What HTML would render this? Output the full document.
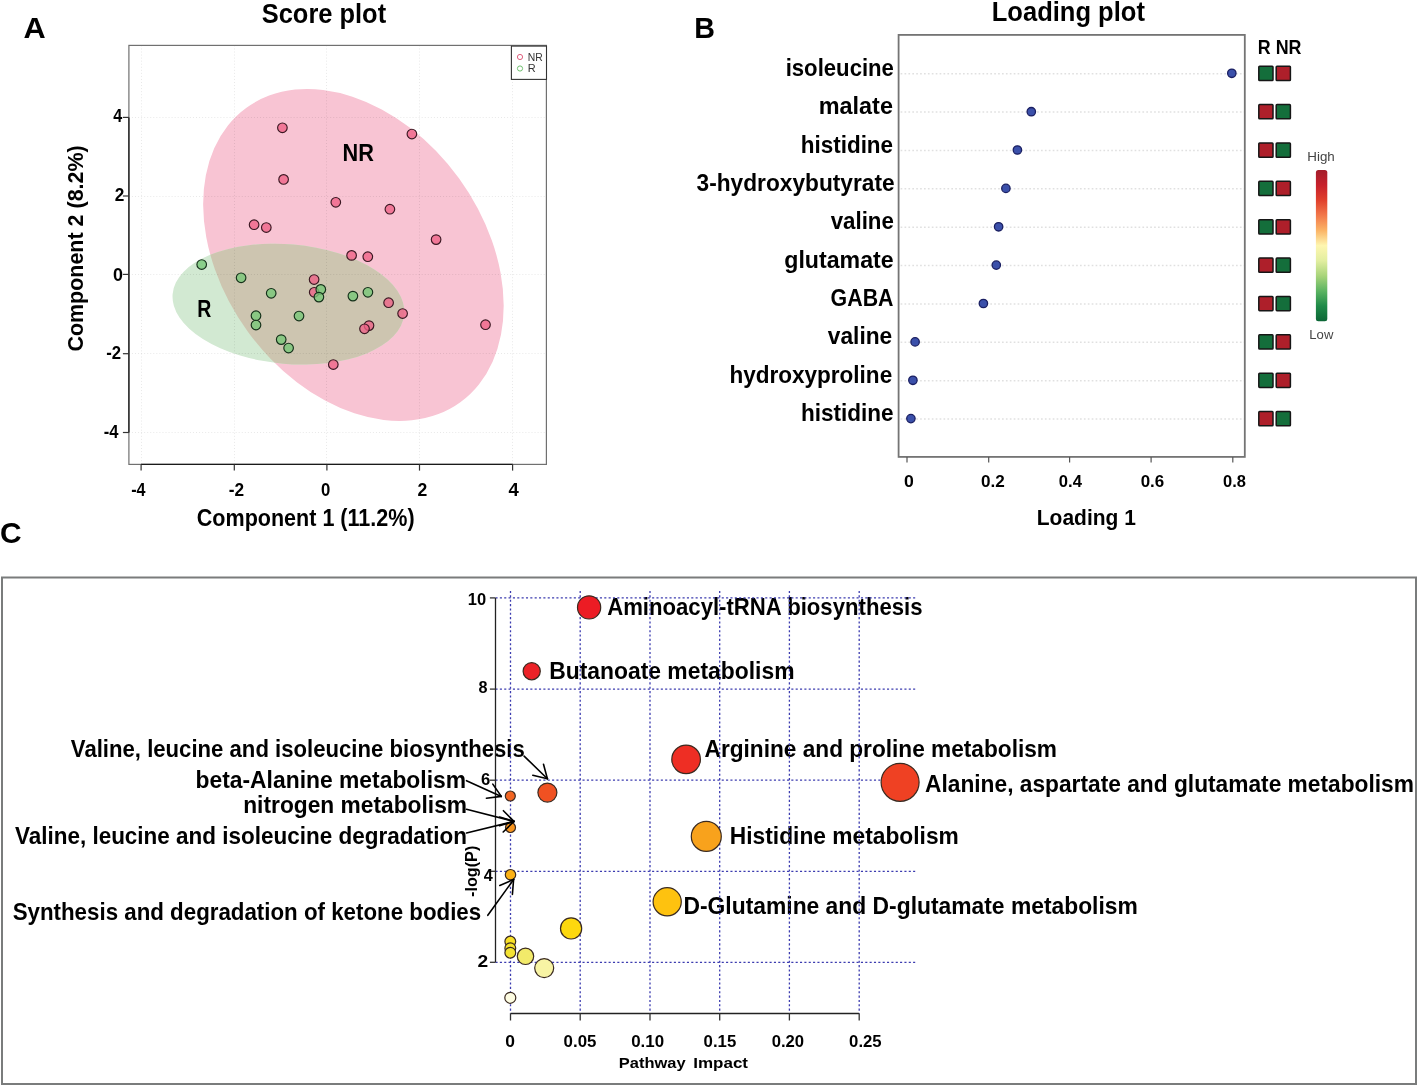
<!DOCTYPE html>
<html><head><meta charset="utf-8"><style>
html,body{margin:0;padding:0;background:#fff;}
svg{display:block;font-family:"Liberation Sans", sans-serif;}
</style></head><body>
<svg style="will-change:transform" width="1417" height="1085" viewBox="0 0 1417 1085">
<rect width="1417" height="1085" fill="#fff"/>
<defs><clipPath id="pinkclip"><ellipse cx="353.41" cy="254.99" rx="181.99" ry="130.46" transform="rotate(54.01 353.41 254.99)" fill="#000" /></clipPath></defs>
<ellipse cx="353.41" cy="254.99" rx="181.99" ry="130.46" transform="rotate(54.01 353.41 254.99)" fill="#f8c4d3" />
<ellipse cx="288.4" cy="304.1" rx="116.2" ry="59.8" transform="rotate(5.0 288.4 304.1)" fill="#d2e9d2" />
<g clip-path="url(#pinkclip)"><ellipse cx="288.4" cy="304.1" rx="116.2" ry="59.8" transform="rotate(5.0 288.4 304.1)" fill="#cdc5b0" /></g>
<line x1="141.5" y1="45.4" x2="141.5" y2="464.4" stroke="rgba(0,0,0,0.09)" stroke-width="1" stroke-dasharray="1 2.05"/>
<line x1="234.5" y1="45.4" x2="234.5" y2="464.4" stroke="rgba(0,0,0,0.09)" stroke-width="1" stroke-dasharray="1 2.05"/>
<line x1="326.5" y1="45.4" x2="326.5" y2="464.4" stroke="rgba(0,0,0,0.09)" stroke-width="1" stroke-dasharray="1 2.05"/>
<line x1="419.5" y1="45.4" x2="419.5" y2="464.4" stroke="rgba(0,0,0,0.09)" stroke-width="1" stroke-dasharray="1 2.05"/>
<line x1="512.5" y1="45.4" x2="512.5" y2="464.4" stroke="rgba(0,0,0,0.09)" stroke-width="1" stroke-dasharray="1 2.05"/>
<line x1="128.9" y1="117.5" x2="546.4" y2="117.5" stroke="rgba(0,0,0,0.09)" stroke-width="1" stroke-dasharray="1 2.05"/>
<line x1="128.9" y1="196.5" x2="546.4" y2="196.5" stroke="rgba(0,0,0,0.09)" stroke-width="1" stroke-dasharray="1 2.05"/>
<line x1="128.9" y1="274.5" x2="546.4" y2="274.5" stroke="rgba(0,0,0,0.09)" stroke-width="1" stroke-dasharray="1 2.05"/>
<line x1="128.9" y1="353.5" x2="546.4" y2="353.5" stroke="rgba(0,0,0,0.09)" stroke-width="1" stroke-dasharray="1 2.05"/>
<line x1="128.9" y1="432.5" x2="546.4" y2="432.5" stroke="rgba(0,0,0,0.09)" stroke-width="1" stroke-dasharray="1 2.05"/>
<rect x="128.9" y="45.4" width="417.5" height="419.0" fill="none" stroke="#707070" stroke-width="1.2"/>
<line x1="128.9" y1="117.4" x2="128.9" y2="432.5" stroke="#1a1a1a" stroke-width="1.3"/>
<line x1="141.1" y1="464.4" x2="512.6" y2="464.4" stroke="#1a1a1a" stroke-width="1.3"/>
<line x1="122.9" y1="117.4" x2="128.9" y2="117.4" stroke="#333" stroke-width="1.2"/>
<line x1="122.9" y1="196.0" x2="128.9" y2="196.0" stroke="#333" stroke-width="1.2"/>
<line x1="122.9" y1="274.4" x2="128.9" y2="274.4" stroke="#333" stroke-width="1.2"/>
<line x1="122.9" y1="353.7" x2="128.9" y2="353.7" stroke="#333" stroke-width="1.2"/>
<line x1="122.9" y1="432.5" x2="128.9" y2="432.5" stroke="#333" stroke-width="1.2"/>
<line x1="141.1" y1="464.4" x2="141.1" y2="470.6" stroke="#333" stroke-width="1.2"/>
<line x1="234.3" y1="464.4" x2="234.3" y2="470.6" stroke="#333" stroke-width="1.2"/>
<line x1="326.9" y1="464.4" x2="326.9" y2="470.6" stroke="#333" stroke-width="1.2"/>
<line x1="419.5" y1="464.4" x2="419.5" y2="470.6" stroke="#333" stroke-width="1.2"/>
<line x1="512.6" y1="464.4" x2="512.6" y2="470.6" stroke="#333" stroke-width="1.2"/>
<circle cx="282.4" cy="127.8" r="4.8" fill="rgba(238,98,135,0.78)" stroke="#3a1822" stroke-width="1.15"/>
<circle cx="411.9" cy="134.0" r="4.8" fill="rgba(238,98,135,0.78)" stroke="#3a1822" stroke-width="1.15"/>
<circle cx="283.6" cy="179.4" r="4.8" fill="rgba(238,98,135,0.78)" stroke="#3a1822" stroke-width="1.15"/>
<circle cx="335.8" cy="202.3" r="4.8" fill="rgba(238,98,135,0.78)" stroke="#3a1822" stroke-width="1.15"/>
<circle cx="389.9" cy="209.2" r="4.8" fill="rgba(238,98,135,0.78)" stroke="#3a1822" stroke-width="1.15"/>
<circle cx="254.1" cy="224.7" r="4.8" fill="rgba(238,98,135,0.78)" stroke="#3a1822" stroke-width="1.15"/>
<circle cx="266.3" cy="227.5" r="4.8" fill="rgba(238,98,135,0.78)" stroke="#3a1822" stroke-width="1.15"/>
<circle cx="436.1" cy="239.6" r="4.8" fill="rgba(238,98,135,0.78)" stroke="#3a1822" stroke-width="1.15"/>
<circle cx="351.6" cy="255.4" r="4.8" fill="rgba(238,98,135,0.78)" stroke="#3a1822" stroke-width="1.15"/>
<circle cx="367.8" cy="256.7" r="4.8" fill="rgba(238,98,135,0.78)" stroke="#3a1822" stroke-width="1.15"/>
<circle cx="314.1" cy="279.5" r="4.8" fill="rgba(238,98,135,0.78)" stroke="#3a1822" stroke-width="1.15"/>
<circle cx="314.2" cy="292.3" r="4.8" fill="rgba(238,98,135,0.78)" stroke="#3a1822" stroke-width="1.15"/>
<circle cx="388.6" cy="302.7" r="4.8" fill="rgba(238,98,135,0.78)" stroke="#3a1822" stroke-width="1.15"/>
<circle cx="402.6" cy="313.5" r="4.8" fill="rgba(238,98,135,0.78)" stroke="#3a1822" stroke-width="1.15"/>
<circle cx="369.0" cy="325.6" r="4.8" fill="rgba(238,98,135,0.78)" stroke="#3a1822" stroke-width="1.15"/>
<circle cx="364.5" cy="328.8" r="4.8" fill="rgba(238,98,135,0.78)" stroke="#3a1822" stroke-width="1.15"/>
<circle cx="485.5" cy="324.7" r="4.8" fill="rgba(238,98,135,0.78)" stroke="#3a1822" stroke-width="1.15"/>
<circle cx="333.3" cy="364.5" r="4.8" fill="rgba(238,98,135,0.78)" stroke="#3a1822" stroke-width="1.15"/>
<circle cx="201.7" cy="264.5" r="4.8" fill="rgba(118,200,118,0.78)" stroke="#15301a" stroke-width="1.15"/>
<circle cx="241.1" cy="277.8" r="4.8" fill="rgba(118,200,118,0.78)" stroke="#15301a" stroke-width="1.15"/>
<circle cx="271.2" cy="293.3" r="4.8" fill="rgba(118,200,118,0.78)" stroke="#15301a" stroke-width="1.15"/>
<circle cx="256.0" cy="315.7" r="4.8" fill="rgba(118,200,118,0.78)" stroke="#15301a" stroke-width="1.15"/>
<circle cx="256.0" cy="325.0" r="4.8" fill="rgba(118,200,118,0.78)" stroke="#15301a" stroke-width="1.15"/>
<circle cx="299.0" cy="316.0" r="4.8" fill="rgba(118,200,118,0.78)" stroke="#15301a" stroke-width="1.15"/>
<circle cx="281.2" cy="339.6" r="4.8" fill="rgba(118,200,118,0.78)" stroke="#15301a" stroke-width="1.15"/>
<circle cx="288.6" cy="348.0" r="4.8" fill="rgba(118,200,118,0.78)" stroke="#15301a" stroke-width="1.15"/>
<circle cx="320.8" cy="289.4" r="4.8" fill="rgba(118,200,118,0.78)" stroke="#15301a" stroke-width="1.15"/>
<circle cx="318.9" cy="297.1" r="4.8" fill="rgba(118,200,118,0.78)" stroke="#15301a" stroke-width="1.15"/>
<circle cx="352.9" cy="296.1" r="4.8" fill="rgba(118,200,118,0.78)" stroke="#15301a" stroke-width="1.15"/>
<circle cx="367.9" cy="292.3" r="4.8" fill="rgba(118,200,118,0.78)" stroke="#15301a" stroke-width="1.15"/>
<rect x="511.4" y="46.1" width="35.1" height="33.3" fill="#fff" stroke="#333" stroke-width="1.1"/>
<circle cx="520" cy="57" r="2.6" fill="none" stroke="#e0607f" stroke-width="1"/>
<circle cx="520" cy="68.5" r="2.6" fill="none" stroke="#70c070" stroke-width="1"/>
<line x1="900.6" y1="73.70" x2="1244.8" y2="73.70" stroke="rgba(0,0,0,0.12)" stroke-width="1.5" stroke-dasharray="1.7 2.2"/>
<line x1="900.6" y1="112.07" x2="1244.8" y2="112.07" stroke="rgba(0,0,0,0.12)" stroke-width="1.5" stroke-dasharray="1.7 2.2"/>
<line x1="900.6" y1="150.44" x2="1244.8" y2="150.44" stroke="rgba(0,0,0,0.12)" stroke-width="1.5" stroke-dasharray="1.7 2.2"/>
<line x1="900.6" y1="188.81" x2="1244.8" y2="188.81" stroke="rgba(0,0,0,0.12)" stroke-width="1.5" stroke-dasharray="1.7 2.2"/>
<line x1="900.6" y1="227.18" x2="1244.8" y2="227.18" stroke="rgba(0,0,0,0.12)" stroke-width="1.5" stroke-dasharray="1.7 2.2"/>
<line x1="900.6" y1="265.55" x2="1244.8" y2="265.55" stroke="rgba(0,0,0,0.12)" stroke-width="1.5" stroke-dasharray="1.7 2.2"/>
<line x1="900.6" y1="303.92" x2="1244.8" y2="303.92" stroke="rgba(0,0,0,0.12)" stroke-width="1.5" stroke-dasharray="1.7 2.2"/>
<line x1="900.6" y1="342.29" x2="1244.8" y2="342.29" stroke="rgba(0,0,0,0.12)" stroke-width="1.5" stroke-dasharray="1.7 2.2"/>
<line x1="900.6" y1="380.66" x2="1244.8" y2="380.66" stroke="rgba(0,0,0,0.12)" stroke-width="1.5" stroke-dasharray="1.7 2.2"/>
<line x1="900.6" y1="419.03" x2="1244.8" y2="419.03" stroke="rgba(0,0,0,0.12)" stroke-width="1.5" stroke-dasharray="1.7 2.2"/>
<circle cx="1231.8" cy="73.3" r="4.2" fill="#3b50aa" stroke="#1a1f62" stroke-width="1.3"/>
<circle cx="1031.3" cy="111.7" r="4.2" fill="#3b50aa" stroke="#1a1f62" stroke-width="1.3"/>
<circle cx="1017.4" cy="150.0" r="4.2" fill="#3b50aa" stroke="#1a1f62" stroke-width="1.3"/>
<circle cx="1005.9" cy="188.4" r="4.2" fill="#3b50aa" stroke="#1a1f62" stroke-width="1.3"/>
<circle cx="998.6" cy="226.8" r="4.2" fill="#3b50aa" stroke="#1a1f62" stroke-width="1.3"/>
<circle cx="996.3" cy="265.1" r="4.2" fill="#3b50aa" stroke="#1a1f62" stroke-width="1.3"/>
<circle cx="983.4" cy="303.5" r="4.2" fill="#3b50aa" stroke="#1a1f62" stroke-width="1.3"/>
<circle cx="915.1" cy="341.9" r="4.2" fill="#3b50aa" stroke="#1a1f62" stroke-width="1.3"/>
<circle cx="912.9" cy="380.3" r="4.2" fill="#3b50aa" stroke="#1a1f62" stroke-width="1.3"/>
<circle cx="910.9" cy="418.6" r="4.2" fill="#3b50aa" stroke="#1a1f62" stroke-width="1.3"/>
<rect x="898.6" y="34.9" width="346.2" height="422.0" fill="none" stroke="#747474" stroke-width="1.8"/>
<line x1="907.0" y1="456.9" x2="907.0" y2="462.4" stroke="#555" stroke-width="1.2"/>
<line x1="988.7" y1="456.9" x2="988.7" y2="462.4" stroke="#555" stroke-width="1.2"/>
<line x1="1069.6" y1="456.9" x2="1069.6" y2="462.4" stroke="#555" stroke-width="1.2"/>
<line x1="1151.1" y1="456.9" x2="1151.1" y2="462.4" stroke="#555" stroke-width="1.2"/>
<line x1="1232.8" y1="456.9" x2="1232.8" y2="462.4" stroke="#555" stroke-width="1.2"/>
<rect x="1258.80" y="66.25" width="14.2" height="14.2" rx="0.8" fill="#146e3b" stroke="#161616" stroke-width="1.5"/>
<rect x="1276.20" y="66.25" width="14.2" height="14.2" rx="0.8" fill="#ae1f2a" stroke="#161616" stroke-width="1.5"/>
<rect x="1258.80" y="104.62" width="14.2" height="14.2" rx="0.8" fill="#ae1f2a" stroke="#161616" stroke-width="1.5"/>
<rect x="1276.20" y="104.62" width="14.2" height="14.2" rx="0.8" fill="#146e3b" stroke="#161616" stroke-width="1.5"/>
<rect x="1258.80" y="142.99" width="14.2" height="14.2" rx="0.8" fill="#ae1f2a" stroke="#161616" stroke-width="1.5"/>
<rect x="1276.20" y="142.99" width="14.2" height="14.2" rx="0.8" fill="#146e3b" stroke="#161616" stroke-width="1.5"/>
<rect x="1258.80" y="181.36" width="14.2" height="14.2" rx="0.8" fill="#146e3b" stroke="#161616" stroke-width="1.5"/>
<rect x="1276.20" y="181.36" width="14.2" height="14.2" rx="0.8" fill="#ae1f2a" stroke="#161616" stroke-width="1.5"/>
<rect x="1258.80" y="219.73" width="14.2" height="14.2" rx="0.8" fill="#146e3b" stroke="#161616" stroke-width="1.5"/>
<rect x="1276.20" y="219.73" width="14.2" height="14.2" rx="0.8" fill="#ae1f2a" stroke="#161616" stroke-width="1.5"/>
<rect x="1258.80" y="258.10" width="14.2" height="14.2" rx="0.8" fill="#ae1f2a" stroke="#161616" stroke-width="1.5"/>
<rect x="1276.20" y="258.10" width="14.2" height="14.2" rx="0.8" fill="#146e3b" stroke="#161616" stroke-width="1.5"/>
<rect x="1258.80" y="296.47" width="14.2" height="14.2" rx="0.8" fill="#ae1f2a" stroke="#161616" stroke-width="1.5"/>
<rect x="1276.20" y="296.47" width="14.2" height="14.2" rx="0.8" fill="#146e3b" stroke="#161616" stroke-width="1.5"/>
<rect x="1258.80" y="334.84" width="14.2" height="14.2" rx="0.8" fill="#146e3b" stroke="#161616" stroke-width="1.5"/>
<rect x="1276.20" y="334.84" width="14.2" height="14.2" rx="0.8" fill="#ae1f2a" stroke="#161616" stroke-width="1.5"/>
<rect x="1258.80" y="373.21" width="14.2" height="14.2" rx="0.8" fill="#146e3b" stroke="#161616" stroke-width="1.5"/>
<rect x="1276.20" y="373.21" width="14.2" height="14.2" rx="0.8" fill="#ae1f2a" stroke="#161616" stroke-width="1.5"/>
<rect x="1258.80" y="411.58" width="14.2" height="14.2" rx="0.8" fill="#ae1f2a" stroke="#161616" stroke-width="1.5"/>
<rect x="1276.20" y="411.58" width="14.2" height="14.2" rx="0.8" fill="#146e3b" stroke="#161616" stroke-width="1.5"/>
<defs><linearGradient id="cb" x1="0" y1="0" x2="0" y2="1"><stop offset="0" stop-color="#a31d2b"/><stop offset="0.1" stop-color="#c7202b"/><stop offset="0.2" stop-color="#e0402c"/><stop offset="0.3" stop-color="#f2784a"/><stop offset="0.4" stop-color="#fbb466"/><stop offset="0.5" stop-color="#fef6b0"/><stop offset="0.6" stop-color="#e2eea0"/><stop offset="0.7" stop-color="#a8d47a"/><stop offset="0.8" stop-color="#5cb462"/><stop offset="0.9" stop-color="#1e8a48"/><stop offset="1" stop-color="#0c6636"/></linearGradient></defs>
<rect x="1315.9" y="170" width="11.4" height="151.2" rx="2.5" fill="url(#cb)"/>
<rect x="2" y="577.5" width="1414" height="506.5" fill="none" stroke="#7a7c7c" stroke-width="2"/>
<text x="23.60" y="37.90" font-size="30" font-weight="bold" fill="#000" textLength="22.20" lengthAdjust="spacingAndGlyphs">A</text>
<text x="261.72" y="22.70" font-size="27.5" font-weight="bold" fill="#000" textLength="124.41" lengthAdjust="spacingAndGlyphs">Score plot</text>
<text x="342.48" y="161.10" font-size="23.8" font-weight="bold" fill="#000" textLength="31.37" lengthAdjust="spacingAndGlyphs">NR</text>
<text x="197.29" y="316.90" font-size="23.8" font-weight="bold" fill="#000" textLength="14.05" lengthAdjust="spacingAndGlyphs">R</text>
<text x="527.75" y="61.40" font-size="11.5" font-weight="normal" fill="#333" textLength="14.99" lengthAdjust="spacingAndGlyphs">NR</text>
<text x="527.80" y="72.30" font-size="11.5" font-weight="normal" fill="#333" textLength="7.94" lengthAdjust="spacingAndGlyphs">R</text>
<text x="196.81" y="525.80" font-size="23.2" font-weight="bold" fill="#000" textLength="217.77" lengthAdjust="spacingAndGlyphs">Component 1 (11.2%)</text>
<text x="113.18" y="122.20" font-size="17.5" font-weight="bold" fill="#000" textLength="8.98" lengthAdjust="spacingAndGlyphs">4</text>
<text x="114.65" y="201.30" font-size="17.5" font-weight="bold" fill="#000" textLength="9.60" lengthAdjust="spacingAndGlyphs">2</text>
<text x="113.08" y="280.70" font-size="17.5" font-weight="bold" fill="#000" textLength="9.97" lengthAdjust="spacingAndGlyphs">0</text>
<text x="106.17" y="359.20" font-size="17.5" font-weight="bold" fill="#000" textLength="14.86" lengthAdjust="spacingAndGlyphs">-2</text>
<text x="103.80" y="438.00" font-size="17.5" font-weight="bold" fill="#000" textLength="14.70" lengthAdjust="spacingAndGlyphs">-4</text>
<text x="131.13" y="496.00" font-size="17.5" font-weight="bold" fill="#000" textLength="14.32" lengthAdjust="spacingAndGlyphs">-4</text>
<text x="228.79" y="496.00" font-size="17.5" font-weight="bold" fill="#000" textLength="15.36" lengthAdjust="spacingAndGlyphs">-2</text>
<text x="321.05" y="496.00" font-size="17.5" font-weight="bold" fill="#000" textLength="9.30" lengthAdjust="spacingAndGlyphs">0</text>
<text x="417.49" y="496.00" font-size="17.5" font-weight="bold" fill="#000" textLength="9.78" lengthAdjust="spacingAndGlyphs">2</text>
<text x="508.40" y="496.00" font-size="17.5" font-weight="bold" fill="#000" textLength="10.28" lengthAdjust="spacingAndGlyphs">4</text>
<text x="694.34" y="37.90" font-size="30" font-weight="bold" fill="#000" textLength="20.69" lengthAdjust="spacingAndGlyphs">B</text>
<text x="991.77" y="21.00" font-size="28" font-weight="bold" fill="#000" textLength="153.12" lengthAdjust="spacingAndGlyphs">Loading plot</text>
<text x="785.67" y="75.90" font-size="24" font-weight="bold" fill="#000" textLength="108.28" lengthAdjust="spacingAndGlyphs">isoleucine</text>
<text x="818.67" y="114.27" font-size="24" font-weight="bold" fill="#000" textLength="74.27" lengthAdjust="spacingAndGlyphs">malate</text>
<text x="800.69" y="152.64" font-size="24" font-weight="bold" fill="#000" textLength="92.42" lengthAdjust="spacingAndGlyphs">histidine</text>
<text x="696.55" y="191.01" font-size="24" font-weight="bold" fill="#000" textLength="198.02" lengthAdjust="spacingAndGlyphs">3-hydroxybutyrate</text>
<text x="830.63" y="229.38" font-size="24" font-weight="bold" fill="#000" textLength="63.25" lengthAdjust="spacingAndGlyphs">valine</text>
<text x="784.24" y="267.75" font-size="24" font-weight="bold" fill="#000" textLength="109.36" lengthAdjust="spacingAndGlyphs">glutamate</text>
<text x="830.61" y="306.12" font-size="24" font-weight="bold" fill="#000" textLength="62.88" lengthAdjust="spacingAndGlyphs">GABA</text>
<text x="827.79" y="344.49" font-size="24" font-weight="bold" fill="#000" textLength="64.45" lengthAdjust="spacingAndGlyphs">valine</text>
<text x="729.38" y="382.86" font-size="24" font-weight="bold" fill="#000" textLength="162.80" lengthAdjust="spacingAndGlyphs">hydroxyproline</text>
<text x="800.90" y="421.23" font-size="24" font-weight="bold" fill="#000" textLength="92.67" lengthAdjust="spacingAndGlyphs">histidine</text>
<text x="903.91" y="487.00" font-size="17" font-weight="bold" fill="#000" textLength="9.84" lengthAdjust="spacingAndGlyphs">0</text>
<text x="981.12" y="487.00" font-size="17" font-weight="bold" fill="#000" textLength="23.77" lengthAdjust="spacingAndGlyphs">0.2</text>
<text x="1058.76" y="487.00" font-size="17" font-weight="bold" fill="#000" textLength="23.14" lengthAdjust="spacingAndGlyphs">0.4</text>
<text x="1140.67" y="487.00" font-size="17" font-weight="bold" fill="#000" textLength="23.55" lengthAdjust="spacingAndGlyphs">0.6</text>
<text x="1223.10" y="487.00" font-size="17" font-weight="bold" fill="#000" textLength="22.90" lengthAdjust="spacingAndGlyphs">0.8</text>
<text x="1036.79" y="524.80" font-size="22.8" font-weight="bold" fill="#000" textLength="99.05" lengthAdjust="spacingAndGlyphs">Loading 1</text>
<text x="1257.85" y="53.90" font-size="19.8" font-weight="bold" fill="#000" textLength="43.63" lengthAdjust="spacingAndGlyphs">R NR</text>
<text x="1307.35" y="160.70" font-size="12.8" font-weight="normal" fill="#444" textLength="27.46" lengthAdjust="spacingAndGlyphs">High</text>
<text x="1309.37" y="339.10" font-size="12.8" font-weight="normal" fill="#444" textLength="23.97" lengthAdjust="spacingAndGlyphs">Low</text>
<text x="-0.08" y="542.50" font-size="30" font-weight="bold" fill="#000" textLength="21.59" lengthAdjust="spacingAndGlyphs">C</text>
<text x="607.16" y="614.90" font-size="24" font-weight="bold" fill="#000" textLength="315.36" lengthAdjust="spacingAndGlyphs">Aminoacyl-tRNA biosynthesis</text>
<text x="549.16" y="678.60" font-size="24" font-weight="bold" fill="#000" textLength="245.32" lengthAdjust="spacingAndGlyphs">Butanoate metabolism</text>
<text x="704.53" y="756.90" font-size="24" font-weight="bold" fill="#000" textLength="352.47" lengthAdjust="spacingAndGlyphs">Arginine and proline metabolism</text>
<text x="925.04" y="791.90" font-size="24" font-weight="bold" fill="#000" textLength="488.93" lengthAdjust="spacingAndGlyphs">Alanine, aspartate and glutamate metabolism</text>
<text x="729.82" y="843.70" font-size="24" font-weight="bold" fill="#000" textLength="229.01" lengthAdjust="spacingAndGlyphs">Histidine metabolism</text>
<text x="683.50" y="913.50" font-size="24" font-weight="bold" fill="#000" textLength="454.33" lengthAdjust="spacingAndGlyphs">D-Glutamine and D-glutamate metabolism</text>
<text x="70.85" y="756.60" font-size="24" font-weight="bold" fill="#000" textLength="453.95" lengthAdjust="spacingAndGlyphs">Valine, leucine and isoleucine biosynthesis</text>
<text x="195.49" y="787.80" font-size="24" font-weight="bold" fill="#000" textLength="270.60" lengthAdjust="spacingAndGlyphs">beta-Alanine metabolism</text>
<text x="243.23" y="812.80" font-size="24" font-weight="bold" fill="#000" textLength="223.84" lengthAdjust="spacingAndGlyphs">nitrogen metabolism</text>
<text x="14.96" y="843.80" font-size="24" font-weight="bold" fill="#000" textLength="452.10" lengthAdjust="spacingAndGlyphs">Valine, leucine and isoleucine degradation</text>
<text x="12.66" y="919.50" font-size="24" font-weight="bold" fill="#000" textLength="468.54" lengthAdjust="spacingAndGlyphs">Synthesis and degradation of ketone bodies</text>
<line x1="510.5" y1="591" x2="510.5" y2="1013.5" stroke="#3c3cb0" stroke-width="1.3" stroke-dasharray="2.1 2.25"/>
<line x1="580.2" y1="591" x2="580.2" y2="1013.5" stroke="#3c3cb0" stroke-width="1.3" stroke-dasharray="2.1 2.25"/>
<line x1="650.0" y1="591" x2="650.0" y2="1013.5" stroke="#3c3cb0" stroke-width="1.3" stroke-dasharray="2.1 2.25"/>
<line x1="719.7" y1="591" x2="719.7" y2="1013.5" stroke="#3c3cb0" stroke-width="1.3" stroke-dasharray="2.1 2.25"/>
<line x1="789.4" y1="591" x2="789.4" y2="1013.5" stroke="#3c3cb0" stroke-width="1.3" stroke-dasharray="2.1 2.25"/>
<line x1="859.2" y1="591" x2="859.2" y2="1013.5" stroke="#3c3cb0" stroke-width="1.3" stroke-dasharray="2.1 2.25"/>
<line x1="495.5" y1="597.9" x2="916" y2="597.9" stroke="#3c3cb0" stroke-width="1.3" stroke-dasharray="2.1 2.25"/>
<line x1="495.5" y1="689.1" x2="916" y2="689.1" stroke="#3c3cb0" stroke-width="1.3" stroke-dasharray="2.1 2.25"/>
<line x1="495.5" y1="780.2" x2="916" y2="780.2" stroke="#3c3cb0" stroke-width="1.3" stroke-dasharray="2.1 2.25"/>
<line x1="495.5" y1="871.3" x2="916" y2="871.3" stroke="#3c3cb0" stroke-width="1.3" stroke-dasharray="2.1 2.25"/>
<line x1="495.5" y1="962.3" x2="916" y2="962.3" stroke="#3c3cb0" stroke-width="1.3" stroke-dasharray="2.1 2.25"/>
<line x1="495.5" y1="597.9" x2="495.5" y2="962.3" stroke="#222" stroke-width="1.3"/>
<line x1="489.9" y1="597.9" x2="495.5" y2="597.9" stroke="#333" stroke-width="1.3"/>
<line x1="489.9" y1="689.1" x2="495.5" y2="689.1" stroke="#333" stroke-width="1.3"/>
<line x1="489.9" y1="780.2" x2="495.5" y2="780.2" stroke="#333" stroke-width="1.3"/>
<line x1="489.9" y1="871.3" x2="495.5" y2="871.3" stroke="#333" stroke-width="1.3"/>
<line x1="489.9" y1="962.3" x2="495.5" y2="962.3" stroke="#333" stroke-width="1.3"/>
<line x1="510.5" y1="1013.5" x2="859.2" y2="1013.5" stroke="#222" stroke-width="1.3"/>
<line x1="510.5" y1="1013.5" x2="510.5" y2="1020.5" stroke="#333" stroke-width="1.3"/>
<line x1="580.2" y1="1013.5" x2="580.2" y2="1020.5" stroke="#333" stroke-width="1.3"/>
<line x1="650.0" y1="1013.5" x2="650.0" y2="1020.5" stroke="#333" stroke-width="1.3"/>
<line x1="719.7" y1="1013.5" x2="719.7" y2="1020.5" stroke="#333" stroke-width="1.3"/>
<line x1="789.4" y1="1013.5" x2="789.4" y2="1020.5" stroke="#333" stroke-width="1.3"/>
<line x1="859.2" y1="1013.5" x2="859.2" y2="1020.5" stroke="#333" stroke-width="1.3"/>
<text x="467.83" y="604.90" font-size="16.5" font-weight="bold" fill="#000" textLength="18.35" lengthAdjust="spacingAndGlyphs">10</text>
<text x="478.62" y="693.00" font-size="16.5" font-weight="bold" fill="#000" textLength="9.01" lengthAdjust="spacingAndGlyphs">8</text>
<text x="481.11" y="785.20" font-size="16.5" font-weight="bold" fill="#000" textLength="9.26" lengthAdjust="spacingAndGlyphs">6</text>
<text x="483.83" y="881.10" font-size="16.5" font-weight="bold" fill="#000" textLength="9.00" lengthAdjust="spacingAndGlyphs">4</text>
<text x="477.57" y="966.60" font-size="16.5" font-weight="bold" fill="#000" textLength="10.68" lengthAdjust="spacingAndGlyphs">2</text>
<text x="505.21" y="1047.30" font-size="16" font-weight="bold" fill="#000" textLength="9.70" lengthAdjust="spacingAndGlyphs">0</text>
<text x="563.58" y="1047.30" font-size="16" font-weight="bold" fill="#000" textLength="32.79" lengthAdjust="spacingAndGlyphs">0.05</text>
<text x="631.17" y="1047.30" font-size="16" font-weight="bold" fill="#000" textLength="32.86" lengthAdjust="spacingAndGlyphs">0.10</text>
<text x="703.59" y="1047.30" font-size="16" font-weight="bold" fill="#000" textLength="32.63" lengthAdjust="spacingAndGlyphs">0.15</text>
<text x="771.67" y="1047.30" font-size="16" font-weight="bold" fill="#000" textLength="32.43" lengthAdjust="spacingAndGlyphs">0.20</text>
<text x="849.10" y="1047.30" font-size="16" font-weight="bold" fill="#000" textLength="32.53" lengthAdjust="spacingAndGlyphs">0.25</text>
<text x="618.82" y="1067.60" font-size="15.2" font-weight="bold" fill="#000" textLength="66.89" lengthAdjust="spacingAndGlyphs">Pathway</text>
<text x="693.28" y="1067.60" font-size="15.2" font-weight="bold" fill="#000" textLength="54.75" lengthAdjust="spacingAndGlyphs">Impact</text>
<text x="0" y="0" font-size="22.6" font-weight="bold" transform="translate(83.3 351.6) rotate(-90)" textLength="206.3" lengthAdjust="spacingAndGlyphs">Component 2 (8.2%)</text>
<text x="0" y="0" font-size="17" font-weight="bold" transform="translate(476.9 896.9) rotate(-90)" textLength="51.2" lengthAdjust="spacingAndGlyphs">-log(P)</text>
<circle cx="589.1" cy="607.4" r="11.6" fill="#ec1c24" stroke="#3a2a20" stroke-width="1.2"/>
<circle cx="531.7" cy="671.2" r="8.6" fill="#ec2227" stroke="#3a2a20" stroke-width="1.2"/>
<circle cx="686.1" cy="759.4" r="14.3" fill="#ee2e24" stroke="#3a2a20" stroke-width="1.2"/>
<circle cx="900.1" cy="782.3" r="19.0" fill="#ef4123" stroke="#3a2a20" stroke-width="1.2"/>
<circle cx="547.4" cy="792.6" r="9.5" fill="#f05122" stroke="#3a2a20" stroke-width="1.2"/>
<circle cx="510.3" cy="796.0" r="5.0" fill="#f26522" stroke="#3a2a20" stroke-width="1.2"/>
<circle cx="510.5" cy="827.5" r="5.0" fill="#f7941d" stroke="#3a2a20" stroke-width="1.2"/>
<circle cx="706.3" cy="836.4" r="15.0" fill="#f8a21c" stroke="#3a2a20" stroke-width="1.2"/>
<circle cx="510.5" cy="874.7" r="5.2" fill="#fbb116" stroke="#3a2a20" stroke-width="1.2"/>
<circle cx="667.2" cy="901.8" r="14.1" fill="#fec20f" stroke="#3a2a20" stroke-width="1.2"/>
<circle cx="571.1" cy="928.4" r="10.6" fill="#fdd80e" stroke="#3a2a20" stroke-width="1.2"/>
<circle cx="510.3" cy="941.6" r="5.4" fill="#f8e028" stroke="#3a2a20" stroke-width="1.2"/>
<circle cx="510.3" cy="948.2" r="5.4" fill="#f6e22c" stroke="#3a2a20" stroke-width="1.2"/>
<circle cx="510.3" cy="952.7" r="5.4" fill="#f4e332" stroke="#3a2a20" stroke-width="1.2"/>
<circle cx="525.5" cy="956.3" r="8.2" fill="#f2ea6a" stroke="#3a2a20" stroke-width="1.2"/>
<circle cx="544.2" cy="968.1" r="9.5" fill="#f8f4a4" stroke="#3a2a20" stroke-width="1.2"/>
<circle cx="510.3" cy="997.8" r="5.5" fill="#fdfce2" stroke="#3a2a20" stroke-width="1.2"/>
<line x1="524.1" y1="756.1" x2="547.4" y2="778.7" stroke="#000" stroke-width="1.6" stroke-linecap="round"/><line x1="547.4" y1="778.7" x2="532.8" y2="775.3" stroke="#000" stroke-width="1.6" stroke-linecap="round"/><line x1="547.4" y1="778.7" x2="543.5" y2="764.2" stroke="#000" stroke-width="1.6" stroke-linecap="round"/>
<line x1="466.5" y1="780.7" x2="501.3" y2="796.4" stroke="#000" stroke-width="1.6" stroke-linecap="round"/><line x1="501.3" y1="796.4" x2="486.4" y2="798.2" stroke="#000" stroke-width="1.6" stroke-linecap="round"/><line x1="501.3" y1="796.4" x2="492.8" y2="784.1" stroke="#000" stroke-width="1.6" stroke-linecap="round"/>
<line x1="466.5" y1="809.3" x2="513.9" y2="821.4" stroke="#000" stroke-width="1.6" stroke-linecap="round"/><line x1="513.9" y1="821.4" x2="499.5" y2="825.7" stroke="#000" stroke-width="1.6" stroke-linecap="round"/><line x1="513.9" y1="821.4" x2="503.4" y2="810.7" stroke="#000" stroke-width="1.6" stroke-linecap="round"/>
<line x1="466.5" y1="833.0" x2="513.9" y2="821.4" stroke="#000" stroke-width="1.6" stroke-linecap="round"/><line x1="513.9" y1="821.4" x2="503.2" y2="832.0" stroke="#000" stroke-width="1.6" stroke-linecap="round"/><line x1="513.9" y1="821.4" x2="499.6" y2="817.0" stroke="#000" stroke-width="1.6" stroke-linecap="round"/>
<line x1="487.8" y1="915.3" x2="513.6" y2="879.5" stroke="#000" stroke-width="1.6" stroke-linecap="round"/><line x1="513.6" y1="879.5" x2="512.4" y2="894.4" stroke="#000" stroke-width="1.6" stroke-linecap="round"/><line x1="513.6" y1="879.5" x2="499.8" y2="885.4" stroke="#000" stroke-width="1.6" stroke-linecap="round"/>
</svg></body></html>
